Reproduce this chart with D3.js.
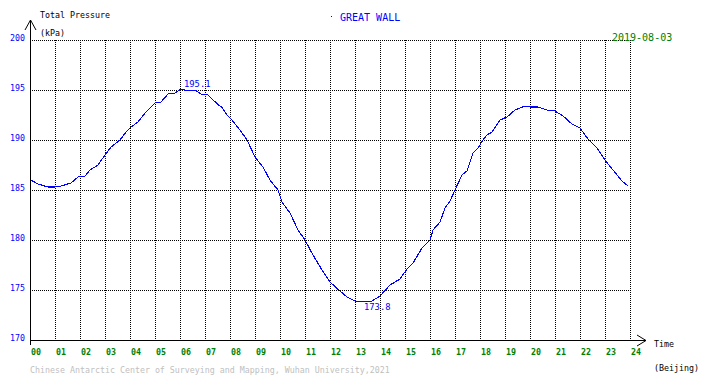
<!DOCTYPE html>
<html>
<head>
<meta charset="utf-8">
<script src="https://cdn.jsdelivr.net/npm/d3@7"></script>
<style>
    body { margin: 0; background: white; }
    text { font-family: "DejaVu Sans Mono", monospace; }
</style>
</head>
<body>
<div id="myPlot" style="width:710px;height:378px"></div>
<script>
const rootSelector = "#myPlot"

const stationName = "GREAT WALL"
const dateLabel = "2019-08-03"
const footerText = "Chinese Antarctic Center of Surveying and Mapping, Wuhan University,2021"
const hourTicks = d3.range(0, 25)
const hourLabels = hourTicks.map(h => String(h).padStart(2, "0"))
const pressureTicks = [170, 175, 180, 185, 190, 195, 200]

// hours (Beijing time) and total pressure in kPa
const hours = [0.03, 0.32, 0.72, 1.0, 1.24, 1.64, 1.92, 2.2, 2.4, 2.72,
    3.0, 3.24, 3.6, 3.84, 4.04, 4.32, 4.6, 5.0, 5.24, 5.52,
    5.8, 6.04, 6.32, 6.6, 6.84, 7.12, 7.32, 7.5, 7.7, 7.88,
    8.08, 8.4, 8.68, 9.0, 9.32, 9.6, 9.92, 10.08, 10.4, 10.72,
    11.0, 11.32, 11.68, 12.0, 12.4, 12.68, 13.0, 13.32, 13.68, 14.0,
    14.4, 14.8, 15.08, 15.32, 15.68, 16.0, 16.12, 16.4, 16.6, 16.8,
    17.0, 17.28, 17.48, 17.72, 17.92, 18.12, 18.28, 18.48, 18.8, 19.08,
    19.4, 19.8, 20.0, 20.32, 20.68, 21.0, 21.32, 21.68, 22.0, 22.32,
    22.68, 23.0, 23.32, 23.68, 23.92]
const pressure = [186.0, 185.6, 185.3, 185.3, 185.4, 185.7, 186.3, 186.4, 187.0, 187.5,
    188.5, 189.3, 190.0, 190.8, 191.3, 191.8, 192.7, 193.7, 193.8, 194.6,
    194.7, 195.1, 194.9, 195.0, 194.6, 194.5, 194.0, 193.6, 193.2, 192.5,
    192.0, 191.0, 190.0, 188.3, 187.3, 186.0, 185.0, 183.8, 182.7, 181.0,
    180.0, 178.5, 177.0, 175.8, 174.9, 174.3, 173.9, 173.8, 173.9, 174.4,
    175.5, 176.1, 177.1, 177.7, 179.2, 180.0, 181.0, 181.8, 183.2, 183.9,
    185.0, 186.5, 186.9, 188.7, 189.2, 190.0, 190.5, 190.8, 192.0, 192.3,
    193.0, 193.4, 193.3, 193.3, 193.0, 192.9, 192.4, 191.6, 191.2, 190.1,
    189.2, 188.0, 187.0, 185.9, 185.4]

const margin = {top: 40, right: 80, bottom: 38, left: 30}
const clientWidth = 710
const clientHeight = 378
const width = clientWidth - margin.left - margin.right
const height = clientHeight - margin.top - margin.bottom

const blue = "#0000ff"
const green = "#008000"

const svg = d3.select(rootSelector).append("svg")
    .attr("width", clientWidth)
    .attr("height", clientHeight)

const g = svg.append("g")
    .attr("transform", `translate(${margin.left}, ${margin.top})`)

const xScale = d3.scaleLinear().domain([0, 24]).range([0, width])
const yScale = d3.scaleLinear().domain([170, 200]).range([height, 0])

// dotted grid
g.append("g").selectAll("line")
    .data(pressureTicks.filter(p => p > 170))
    .enter().append("line")
    .attr("x1", 0).attr("x2", width)
    .attr("y1", p => Math.round(yScale(p)) + 0.5)
    .attr("y2", p => Math.round(yScale(p)) + 0.5)
    .attr("stroke", "black")
    .attr("stroke-dasharray", "1,1")
    .attr("shape-rendering", "crispEdges")

g.append("g").selectAll("line")
    .data(hourTicks.filter(h => h > 0))
    .enter().append("line")
    .attr("x1", h => Math.round(xScale(h)) + 0.5)
    .attr("x2", h => Math.round(xScale(h)) + 0.5)
    .attr("y1", 0).attr("y2", height)
    .attr("stroke", "black")
    .attr("stroke-dasharray", "1,1")
    .attr("shape-rendering", "crispEdges")

// axes with arrows
const axes = g.append("g")
    .attr("stroke", "black")
    .attr("fill", "none")
    .attr("shape-rendering", "crispEdges")

axes.append("path").attr("d", `M0.5,${height + 5}V-20`)
axes.append("path").attr("d", `M-5,-10L0.5,-20L6,-10`).attr("shape-rendering", "auto")
axes.append("path").attr("d", `M0,${height + 0.5}H${width + 16}`)
axes.append("path").attr("d", `M${width + 7},${height - 5}L${width + 16},${height + 0.5}L${width + 7},${height + 6}`)
    .attr("shape-rendering", "auto")

// tick labels
g.append("g").selectAll("text")
    .data(pressureTicks)
    .enter().append("text")
    .attr("x", -5)
    .attr("y", p => yScale(p) + 0.5)
    .attr("text-anchor", "end")
    .attr("font-size", 8.3)
    .attr("fill", blue)
    .text(p => p)

g.append("g").selectAll("text")
    .data(hourTicks)
    .enter().append("text")
    .attr("x", h => xScale(h) + 1)
    .attr("y", height + 15)
    .attr("font-size", 8.3)
    .attr("font-weight", "bold")
    .attr("fill", green)
    .text((h, i) => hourLabels[i])

// pressure line
const records = hours.map((h, i) => [h, pressure[i]])

const line = d3.line()
    .x(d => xScale(d[0]))
    .y(d => yScale(d[1]))

g.append("path")
    .datum(records)
    .attr("d", line)
    .attr("fill", "none")
    .attr("stroke", blue)
    .attr("stroke-width", 1.1)
    .attr("shape-rendering", "crispEdges")

const maxRecord = records.reduce((a, b) => b[1] > a[1] ? b : a)
const minRecord = records.reduce((a, b) => b[1] < a[1] ? b : a)

g.append("text")
    .attr("x", xScale(maxRecord[0]) + 3)
    .attr("y", yScale(maxRecord[1]) - 2)
    .attr("font-size", 8.8)
    .attr("fill", blue)
    .text(maxRecord[1].toFixed(1))

g.append("text")
    .attr("x", xScale(minRecord[0]) + 1)
    .attr("y", yScale(minRecord[1]) + 8)
    .attr("font-size", 8.8)
    .attr("fill", blue)
    .text(minRecord[1].toFixed(1))

// titles
svg.append("text").attr("x", 40).attr("y", 18).attr("font-size", 8.3).text("Total Pressure")
svg.append("text").attr("x", 40).attr("y", 36).attr("font-size", 8.3).text("(kPa)")
svg.append("text").attr("x", 654).attr("y", 347).attr("font-size", 8.3).text("Time")
svg.append("text").attr("x", 654).attr("y", 371).attr("font-size", 8.3).text("(Beijing)")

svg.append("rect").attr("x", 331).attr("y", 16).attr("width", 1).attr("height", 1).attr("fill", blue)
svg.append("text").attr("x", 340).attr("y", 21).attr("font-size", 10).attr("fill", blue).text(stationName)
svg.append("text").attr("x", 612).attr("y", 41).attr("font-size", 10).attr("fill", green).text(dateLabel)

svg.append("text")
    .attr("x", 30)
    .attr("y", 373)
    .attr("font-size", 8.3)
    .attr("fill", "#c0c0c0")
    .text(footerText)
</script>
</body>
</html>
